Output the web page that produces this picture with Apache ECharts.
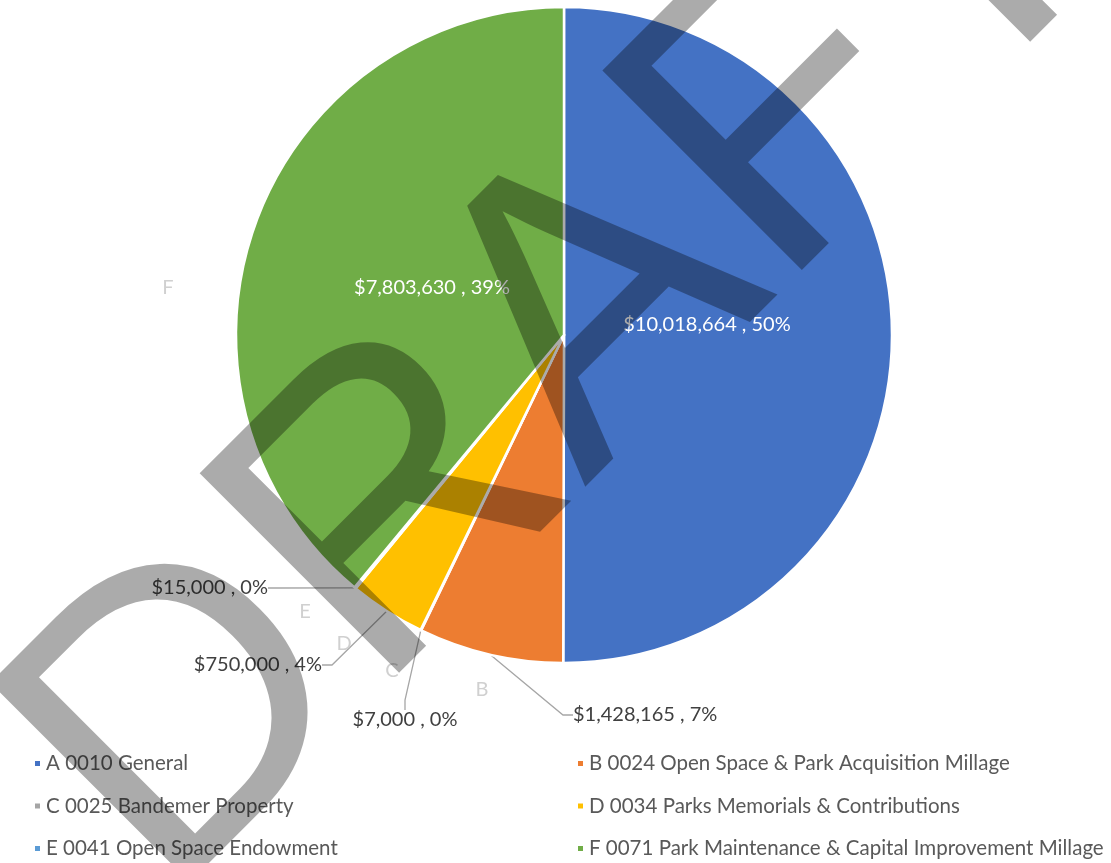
<!DOCTYPE html>
<html>
<head>
<meta charset="utf-8">
<script src="https://cdn.jsdelivr.net/npm/echarts@6/dist/echarts.min.js"></script>
<style>
  html, body { margin: 0; padding: 0; background: #fff; }
  #main { width: 1111px; height: 863px; }
</style>
</head>
<body>
<div id="main"></div>
<script>
// fund data
const letters = ['A', 'B', 'C', 'D', 'E', 'F'];
const fundNames = [
    'A 0010 General',
    'B 0024 Open Space & Park Acquisition Millage',
    'C 0025 Bandemer Property',
    'D 0034 Parks Memorials & Contributions',
    'E 0041 Open Space Endowment',
    'F 0071 Park Maintenance & Capital Improvement Millage'
];
const amounts = [10018664, 1428165, 7000, 750000, 15000, 7803630];

const colors = ['#4472C4', '#ED7D31', '#A5A5A5', '#FFC000', '#5B9BD5', '#70AD47'];
const font = 'Lato, "Open Sans", sans-serif';

// where Excel put the value labels (text anchor) and the letter labels
const valueLabelPos = {
    A: { x: 707, y: 325, align: 'center' },
    B: { x: 573, y: 715, align: 'left' },
    C: { x: 405, y: 720, align: 'center' },
    D: { x: 322, y: 665, align: 'right' },
    E: { x: 268, y: 588, align: 'right' },
    F: { x: 432, y: 288, align: 'center' }
};
const letterLabelPos = {
    B: { x: 482, y: 690 },
    C: { x: 392, y: 671 },
    D: { x: 344, y: 644 },
    E: { x: 305, y: 612 },
    F: { x: 168, y: 288 }
};

const chartDom = document.getElementById('main');
const myChart = echarts.init(chartDom);

const pieData = fundNames.map((name, i) => ({
    name: name,
    value: amounts[i],
    itemStyle: { color: colors[i] },
    label: (i === 0 || i === 5)
        ? { color: '#ffffff', position: 'inside' }
        : { color: '#404040', position: 'outside' },
    labelLine: { show: !(i === 0 || i === 5) }
}));

const letterData = letters.map((l, i) => ({ name: l, value: amounts[i] }));

const money = (v) => '$' + v.toLocaleString('en-US');

const legendBase = {
    orient: 'vertical',
    top: 753,
    padding: 0,
    icon: 'rect',
    itemWidth: 7,
    itemHeight: 7,
    itemGap: 21.5,
    textStyle: { fontSize: 20.5, lineHeight: 20, color: '#595959', fontFamily: font }
};

const option = {
    animation: false,
    legend: [
        Object.assign({}, legendBase, { data: [fundNames[0], fundNames[2], fundNames[4]], left: 33 }),
        Object.assign({}, legendBase, { data: [fundNames[1], fundNames[3], fundNames[5]], left: 576 })
    ],
    series: [
        {
            name: 'Funds',
            type: 'pie',
            center: [564, 335],
            radius: 328,
            startAngle: 90,
            clockwise: true,
            avoidLabelOverlap: false,
            data: pieData,
            itemStyle: { borderColor: '#ffffff', borderWidth: 2.5 },
            label: {
                formatter: (p) => money(p.value) + ' , ' + Math.round(p.percent) + '%',
                fontSize: 20,
                fontFamily: font
            },
            labelLine: {
                lineStyle: { color: '#a6a6a6', width: 1.3 },
                length: 20,
                length2: 10
            },
            labelLayout: (params) => {
                const pos = valueLabelPos[letters[params.dataIndex]];
                return { x: pos.x, y: pos.y, align: pos.align, verticalAlign: 'middle' };
            },
            emphasis: { disabled: true },
            z: 2
        },
        {
            name: 'Letters',
            type: 'pie',
            center: [564, 335],
            radius: 328,
            startAngle: 90,
            clockwise: true,
            silent: true,
            avoidLabelOverlap: false,
            data: letterData,
            itemStyle: { color: 'rgba(0,0,0,0)' },
            label: {
                position: 'outside',
                formatter: (p) => (p.name === 'A' ? '' : p.name),
                color: '#d0d0d0',
                fontSize: 20,
                fontFamily: font
            },
            labelLine: { show: false },
            labelLayout: (params) => {
                const pos = letterLabelPos[letters[params.dataIndex]];
                if (!pos) return {};
                return { x: pos.x, y: pos.y, align: 'center', verticalAlign: 'middle' };
            },
            emphasis: { disabled: true },
            z: 3
        }
    ],
    graphic: [
        {
            type: 'text',
            x: 86,
            y: 826,
            rotation: Math.PI / 4,
            silent: true,
            z: 100,
            style: {
                text: 'DRAFT',
                fontSize: 410,
                fontFamily: '"Liberation Sans", Arial, sans-serif',
                fill: 'rgba(0,0,0,0.33)',
                textAlign: 'left',
                textVerticalAlign: 'middle'
            }
        }
    ]
};

myChart.setOption(option);

window.addEventListener('resize', () => {
    myChart.resize();
});
</script>
</body>
</html>
